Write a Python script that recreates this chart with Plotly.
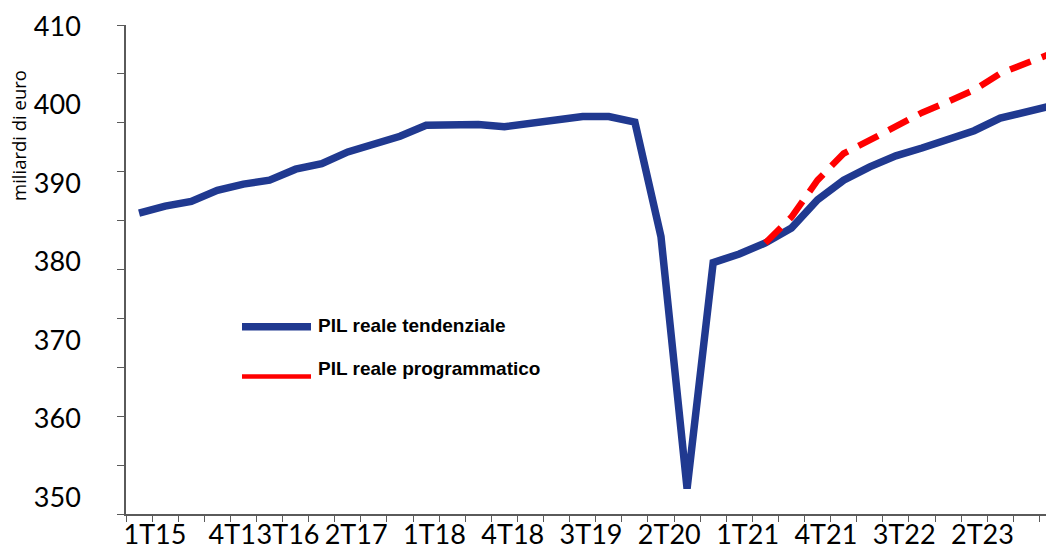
import plotly.graph_objects as go

# ---- data ----
quarters = ["1T15", "2T15", "3T15", "4T15", "1T16", "2T16", "3T16", "4T16",
            "1T17", "2T17", "3T17", "4T17", "1T18", "2T18", "3T18", "4T18",
            "1T19", "2T19", "3T19", "4T19", "1T20", "2T20", "3T20", "4T20",
            "1T21", "2T21", "3T21", "4T21", "1T22", "2T22", "3T22", "4T22",
            "1T23", "2T23", "3T23", "4T23"]

pil_tendenziale = [386.2, 387.1, 387.7, 389.1, 389.9, 390.4, 391.8, 392.5,
                   394.0, 395.0, 396.0, 397.4, 397.4, 397.5, 397.2, 397.6,
                   398.2, 398.5, 398.5, 397.8, 383.2, 351.1, 379.9, 381.0,
                   382.4, 384.3, 387.9, 390.4, 392.1, 393.5, 394.5, 395.5,
                   396.7, 398.3, 399.1, 399.9]

pil_programmatico = [None] * 24 + [382.4, 385.7, 390.4, 393.8, 395.5, 397.2,
                                   399.0, 400.4, 401.9, 404.0, 405.3, 406.6]

series_names = ["PIL reale tendenziale", "PIL reale programmatico"]
y_tick_values = [350, 360, 370, 380, 390, 400, 410]
y_title = "miliardi di euro"
label_step = 3

# ---- layout geometry (pixels of the 1054x545 window; page body has an 8px margin) ----
OFF = 8
W, H = 1054 - OFF, 545 - OFF
ML, MT = 126 - OFF, 25 - OFF
PLOT_BOTTOM = 514 - OFF
MB = H - PLOT_BOTTOM
PW = W - ML
PH = PLOT_BOTTOM - MT
Y_RANGE = [347.87, 410.17]
X_RANGE = [-0.5, 35.06]

BLUE = "#203990"
RED = "#FF0000"
AXIS = "#5a5a5a"

x_idx = list(range(len(quarters)))

# x tick labels (Excel places them slightly left of category centres)
label_offset = {0: 0.61, 3: 0.87, 6: -0.29}
lab_idx = list(range(0, len(quarters), label_step))
lab_pos = [i + label_offset.get(i, -0.68) for i in lab_idx]
lab_txt = []
for i in lab_idx:
    t = quarters[i]
    if i == 3:  # last digit hidden under the overlapping next label, as in the original
        t = t[:-1] + "<span style='color:white'>" + t[-1] + "</span>"
    lab_txt.append(t)


def px_x(px):
    return (px - OFF - ML) / PW


def px_y(py):
    return (PLOT_BOTTOM - (py - OFF)) / PH


fig = go.Figure()
fig.add_trace(go.Scatter(x=x_idx, y=pil_tendenziale, mode="lines",
                         name=series_names[0],
                         line=dict(color=BLUE, width=7.5)))
fig.add_trace(go.Scatter(x=x_idx, y=pil_programmatico, mode="lines",
                         name=series_names[1],
                         line=dict(color=RED, width=6.5, dash="22px,12px")))

eps = 1e-6
y_minor = [Y_RANGE[0] + eps + k * (Y_RANGE[1] - Y_RANGE[0] - 2 * eps) / 10 for k in range(11)]
x_minor = [k - 0.5 for k in range(len(quarters))]

fig.update_layout(
    width=W, height=H,
    margin=dict(l=ML, r=0, t=MT, b=MB, pad=0, autoexpand=False),
    paper_bgcolor="white", plot_bgcolor="white",
    showlegend=False,
    xaxis=dict(range=X_RANGE, showgrid=False, zeroline=False, automargin=False,
               showline=True, linecolor=AXIS, linewidth=1.5,
               tickmode="array", tickvals=lab_pos, ticktext=lab_txt,
               ticks="", tickangle=0, ticklabelstandoff=-4,
               tickfont=dict(family="Lato", size=27, color="black"),
               minor=dict(tickmode="array", tickvals=x_minor, ticks="outside",
                          ticklen=6, tickwidth=1.3, tickcolor=AXIS, showgrid=False)),
    yaxis=dict(range=Y_RANGE, showgrid=False, zeroline=False, automargin=False,
               showline=True, linecolor=AXIS, linewidth=1.5,
               tickmode="array", tickvals=y_tick_values, ticks="",
               ticklabelstandoff=38,
               tickfont=dict(family="Lato", size=27, color="black"),
               minor=dict(tickmode="array", tickvals=y_minor, ticks="outside",
                          ticklen=7, tickwidth=1.3, tickcolor=AXIS, showgrid=False)),
)

# y-axis title
fig.add_annotation(text=y_title, xref="paper", yref="paper",
                   x=px_x(18), y=px_y(136), xanchor="center", yanchor="middle",
                   textangle=-90, showarrow=False,
                   font=dict(family="Open Sans", size=18.5, color="black"))

# legend (drawn as in the original, inside the plot)
leg = [(series_names[0], BLUE, 7.5, 326.7, 325),
       (series_names[1], RED, 4.5, 376.5, 368)]
for name, col, lw, ly, ty in leg:
    fig.add_shape(type="line", xref="paper", yref="paper",
                  x0=px_x(242), x1=px_x(311), y0=px_y(ly), y1=px_y(ly),
                  line=dict(color=col, width=lw))
    fig.add_annotation(text=name, xref="paper", yref="paper",
                       x=px_x(316), y=px_y(ty), xanchor="left", yanchor="middle",
                       showarrow=False,
                       font=dict(family="Liberation Sans", size=19, color="black", weight=700))

fig.write_html("out.html")
